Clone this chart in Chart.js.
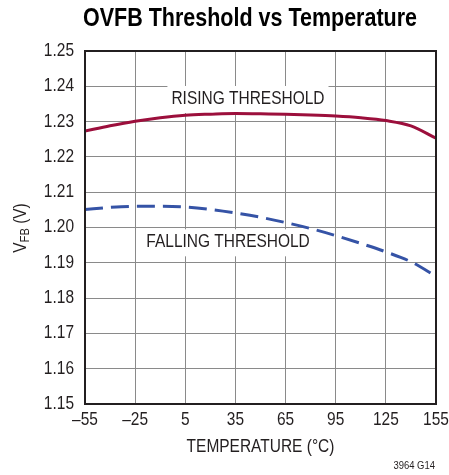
<!DOCTYPE html>
<html lang="en">
<head>
<meta charset="UTF-8"/>
<title>OVFB Threshold vs Temperature</title>
<script src="https://cdn.jsdelivr.net/npm/chart.js@4"></script>
<style>
  * { margin: 0; padding: 0; box-sizing: border-box; }
  body { background: #fff; width: 449px; height: 475px; overflow: hidden; }
</style>
</head>
<body>
<canvas id="chart" width="449" height="475"></canvas>
<script>
// data
const temps      = [-55, -40, -25, -10, 5, 20, 35, 50, 65, 80, 95, 110, 125, 140, 155];
const rising     = [1.2273, 1.2288, 1.2301, 1.2311, 1.2318, 1.2321, 1.2323, 1.2322, 1.2321, 1.2319, 1.2316, 1.2311, 1.2303, 1.2288, 1.2253];
const falling    = [1.2051, 1.2057, 1.2060, 1.2060, 1.2058, 1.2051, 1.2041, 1.2029, 1.2014, 1.1997, 1.1977, 1.1955, 1.1931, 1.1903, 1.1862];
const xTicks     = [-55, -25, 5, 35, 65, 95, 125, 155];
const yTicks     = [1.15, 1.16, 1.17, 1.18, 1.19, 1.20, 1.21, 1.22, 1.23, 1.24, 1.25];
const curveNotes = [
  { text: 'RISING THRESHOLD',  x: 42.5, y: 1.2364 },
  { text: 'FALLING THRESHOLD', x: 30.6, y: 1.1958 }
];

// no condensed font installed -> squeeze Liberation Sans horizontally
const FONT  = "'Liberation Sans', Arial, sans-serif";
const SQZ   = 0.86;
const INK   = '#231f20';

const fmtTemp = v => (v < 0 ? '\u2013' + Math.abs(v) : String(v));

function txt(ctx, s, x, y, size, align, weight) {
  ctx.save();
  ctx.font = (weight || '') + ' ' + size + 'px ' + FONT;
  ctx.textAlign = align || 'center';
  ctx.textBaseline = 'middle';
  ctx.translate(x, y);
  ctx.scale(SQZ, 1);
  ctx.fillText(s, 0, 0);
  ctx.restore();
}

const decor = {
  id: 'decor',
  beforeDatasetsDraw(chart) {
    const { ctx, scales: { x, y } } = chart;
    ctx.save();
    ctx.font = '18px ' + FONT;
    curveNotes.forEach(n => {
      const px = x.getPixelForValue(n.x), py = y.getPixelForValue(n.y);
      const w = ctx.measureText(n.text).width * SQZ;
      ctx.fillStyle = '#fff';
      ctx.fillRect(px - w / 2 - 4, py - 13, w + 8, 27);
      ctx.fillStyle = INK;
      txt(ctx, n.text, px, py, 18);
    });
    ctx.restore();
  },
  afterDraw(chart) {
    const { ctx, chartArea: a, scales: { x, y } } = chart;
    ctx.save();
    ctx.fillStyle = INK;

    // tick labels, placed by the scales
    xTicks.forEach(v => txt(ctx, fmtTemp(v), x.getPixelForValue(v), 420, 18));
    yTicks.forEach(v => txt(ctx, v.toFixed(2), 74, y.getPixelForValue(v), 18, 'right'));

    ctx.fillStyle = '#000';
    txt(ctx, 'OVFB Threshold vs Temperature', 250, 19, 25, 'center', 'bold');

    ctx.fillStyle = INK;
    txt(ctx, 'TEMPERATURE (\u00B0C)', (a.left + a.right) / 2, 447, 18);
    txt(ctx, '3964 G14', 435, 466, 11, 'right');

    // y title with subscript, rotated
    ctx.save();
    ctx.translate(21, 228);
    ctx.rotate(-Math.PI / 2);
    ctx.scale(SQZ, 1);
    ctx.textAlign = 'left';
    ctx.textBaseline = 'middle';
    const parts = [['V', 18, 0], ['FB', 13, 4], [' (V)', 18, 0]];
    let total = 0;
    parts.forEach(p => { ctx.font = p[1] + 'px ' + FONT; total += ctx.measureText(p[0]).width; });
    let cx = -total / 2;
    parts.forEach(p => {
      ctx.font = p[1] + 'px ' + FONT;
      ctx.fillText(p[0], cx, p[2]);
      cx += ctx.measureText(p[0]).width;
    });
    ctx.restore();

    // plot frame
    ctx.strokeStyle = INK;
    ctx.lineWidth = 2;
    ctx.strokeRect(a.left, a.top, a.right - a.left, a.bottom - a.top);
    ctx.restore();
  }
};

new Chart(document.getElementById('chart'), {
  type: 'line',
  data: {
    datasets: [{
      label: 'Rising threshold',
      data: temps.map((t, i) => ({ x: t, y: rising[i] })),
      borderColor: '#9c0f3c',
      borderWidth: 3,
      pointRadius: 0,
      cubicInterpolationMode: 'monotone',
      fill: false
    }, {
      label: 'Falling threshold',
      data: temps.map((t, i) => ({ x: t, y: falling[i] })),
      borderColor: '#3553a6',
      borderWidth: 3,
      borderDash: [18, 8],
      pointRadius: 0,
      cubicInterpolationMode: 'monotone',
      fill: false
    }]
  },
  options: {
    responsive: false,
    animation: false,
    devicePixelRatio: 1,
    layout: { padding: { top: 51, right: 13, left: 0, bottom: 0 } },
    plugins: { legend: { display: false }, tooltip: { enabled: false }, title: { display: false } },
    scales: {
      x: {
        type: 'linear',
        min: -55, max: 155,
        afterBuildTicks: s => { s.ticks = xTicks.map(v => ({ value: v })); },
        afterFit: s => { s.height = 71; },
        grid: { color: '#8a8a8a', lineWidth: 1, drawTicks: false },
        border: { display: false },
        ticks: { display: false }
      },
      y: {
        min: 1.15, max: 1.25,
        afterBuildTicks: s => { s.ticks = yTicks.map(v => ({ value: v })); },
        afterFit: s => { s.width = 85; },
        grid: { color: '#8a8a8a', lineWidth: 1, drawTicks: false },
        border: { display: false },
        ticks: { display: false }
      }
    }
  },
  plugins: [decor]
});
</script>
</body>
</html>
